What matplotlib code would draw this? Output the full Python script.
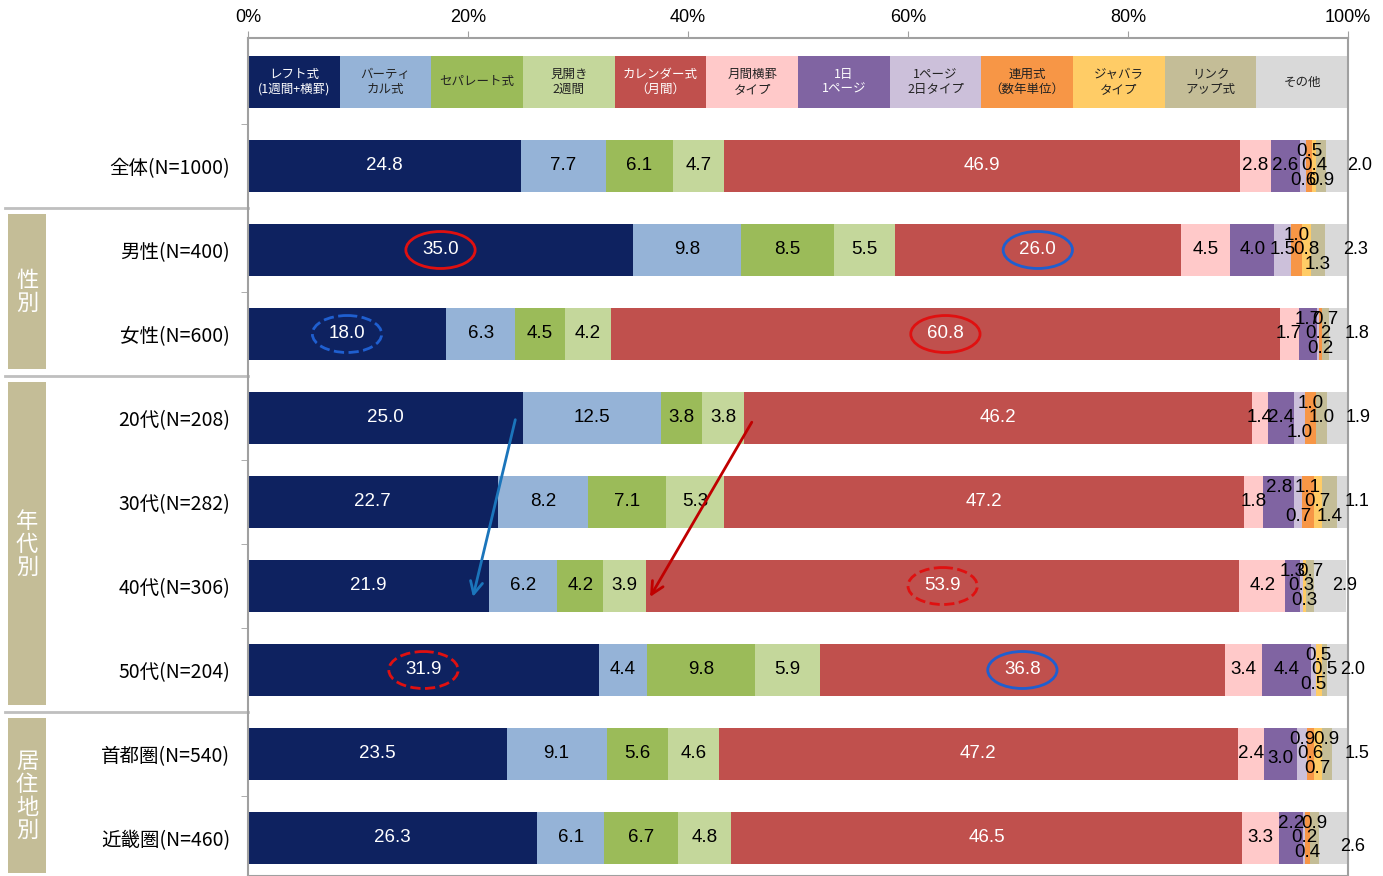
import numpy as np
import matplotlib
matplotlib.use('Agg')
import matplotlib.pyplot as plt
from matplotlib.patches import Ellipse, Rectangle
import matplotlib.transforms as mtransforms
from matplotlib import font_manager

plt.rcParams['font.family'] = ['Noto Sans CJK JP', 'DejaVu Sans']
names = {f.name for f in font_manager.fontManager.ttflist}
NUM_FONT = 'Liberation Sans Narrow' if 'Liberation Sans Narrow' in names else 'Liberation Sans'

# ---------------- data ----------------
categories = ['レフト式\n(1週間+横罫)', 'バーティ\nカル式', 'セパレート式', '見開き\n2週間',
              'カレンダー式\n（月間）', '月間横罫\nタイプ', '1日\n1ページ', '1ページ\n2日タイプ',
              '連用式\n（数年単位）', 'ジャバラ\nタイプ', 'リンク\nアップ式', 'その他']
row_labels = ['全体(N=1000)', '男性(N=400)', '女性(N=600)', '20代(N=208)', '30代(N=282)',
              '40代(N=306)', '50代(N=204)', '首都圏(N=540)', '近畿圏(N=460)']
vals_total = [24.8, 7.7, 6.1, 4.7, 46.9, 2.8, 2.6, 0.6, 0.5, 0.4, 0.9, 2.0]
vals_male = [35.0, 9.8, 8.5, 5.5, 26.0, 4.5, 4.0, 1.5, 1.0, 0.8, 1.3, 2.3]
vals_female = [18.0, 6.3, 4.5, 4.2, 60.8, 1.7, 1.7, 0.2, 0.2, 0.0, 0.7, 1.8]
vals_20s = [25.0, 12.5, 3.8, 3.8, 46.2, 1.4, 2.4, 1.0, 1.0, 0.0, 1.0, 1.9]
vals_30s = [22.7, 8.2, 7.1, 5.3, 47.2, 1.8, 2.8, 0.7, 1.1, 0.7, 1.4, 1.1]
vals_40s = [21.9, 6.2, 4.2, 3.9, 53.9, 4.2, 1.3, 0.3, 0.0, 0.3, 0.7, 2.9]
vals_50s = [31.9, 4.4, 9.8, 5.9, 36.8, 3.4, 4.4, 0.5, 0.0, 0.5, 0.5, 2.0]
vals_tokyo = [23.5, 9.1, 5.6, 4.6, 47.2, 2.4, 3.0, 0.9, 0.6, 0.7, 0.9, 1.5]
vals_kinki = [26.3, 6.1, 6.7, 4.8, 46.5, 3.3, 2.2, 0.2, 0.4, 0.0, 0.9, 2.6]
groups = [('性\n別', 1, 2), ('年\n代\n別', 3, 6), ('居\n住\n地\n別', 7, 8)]
x_ticks = [0, 20, 40, 60, 80, 100]

# ---------------- styles ----------------
colors = ['#0E2260', '#95B3D7', '#9BBB59', '#C4D79B', '#C0504D', '#FFC9C9',
          '#8064A2', '#CCC0DA', '#F79646', '#FFCC66', '#C4BD97', '#D9D9D9']
header_white = {0, 4, 6}
label_white = {0, 4}
# vertical offsets of small labels (row index -> {category: offset})
T, M, B = -0.17, 0.0, 0.17
small_off = {
    0: {7: B, 8: T, 9: M, 10: B},
    1: {7: M, 8: T, 9: M, 10: B},
    2: {6: T, 7: M, 8: B, 10: T},
    3: {7: B, 8: T, 10: M},
    4: {6: T, 7: B, 8: T, 9: M, 10: B},
    5: {6: T, 7: M, 9: B, 10: T},
    6: {7: B, 9: T, 10: M},
    7: {6: 0.05, 7: T, 8: M, 9: B, 10: T},
    8: {6: T, 7: M, 8: B, 10: T},
}
other_x = [101.1, 100.7, 100.8, 100.9, 100.8, 99.7, 100.4, 100.8, 100.4]
other_dy = [0, 0, 0, 0, 0, 0, 0, 0, 0.1]
ellipses = [(1, 0, '#E01010', '-'), (1, 4, '#1F5FD0', '-'), (2, 0, '#1F5FD0', '--'),
            (2, 4, '#E01010', '-'), (5, 4, '#E01010', '--'), (6, 0, '#E01010', '--'),
            (6, 4, '#1F5FD0', '-')]

data = np.array([vals_total, vals_male, vals_female, vals_20s, vals_30s,
                 vals_40s, vals_50s, vals_tokyo, vals_kinki])
nrow, ncat = data.shape
ypos = np.arange(1, nrow + 1)
lefts = np.hstack([np.zeros((nrow, 1)), np.cumsum(data, axis=1)[:, :-1]])

W, H = 1383, 876
fig = plt.figure(figsize=(W / 100, H / 100), dpi=100)
ax = fig.add_axes([248 / W, 0, 1100 / W, 1 - 38 / H])
BH = 0.62

# header legend band
hw = 100 / ncat
for j in range(ncat):
    ax.barh(0, hw, left=j * hw, height=BH, color=colors[j], linewidth=0)
    ax.text(j * hw + hw / 2, 0, categories[j], ha='center', va='center', fontsize=9,
            linespacing=1.15, color='white' if j in header_white else '#222222')

# bars
for j in range(ncat):
    ax.barh(ypos, data[:, j], left=lefts[:, j], height=BH, color=colors[j], linewidth=0)

# labels
for i in range(nrow):
    for j in range(ncat):
        v = data[i, j]
        if v <= 0:
            continue
        if j == ncat - 1:
            ax.text(other_x[i], ypos[i] + other_dy[i], f'{v:.1f}', ha='center', va='center',
                    fontsize=13, family=NUM_FONT, color='black')
            continue
        dy = small_off.get(i, {}).get(j, 0.0)
        ax.text(lefts[i, j] + v / 2, ypos[i] + dy, f'{v:.1f}', ha='center', va='center',
                fontsize=13.5, family=NUM_FONT,
                color='white' if j in label_white else 'black')

# ellipses
for (i, j, c, ls) in ellipses:
    xc = lefts[i, j] + data[i, j] / 2
    ax.add_patch(Ellipse((xc, ypos[i]), width=6.3, height=0.44, fill=False,
                         edgecolor=c, lw=2, linestyle=ls, zorder=5))

# arrows (20s -> 40s)
ax.annotate('', xy=(lefts[5, 1] - 1.45, ypos[5] + 0.13), xytext=(lefts[3, 1] - 0.7, ypos[3] + 0.02),
            arrowprops=dict(arrowstyle='->', color='#1B75BB', lw=2, mutation_scale=22,
                            shrinkA=0, shrinkB=0), zorder=6)
ax.annotate('', xy=(lefts[5, 4] + 0.35, ypos[5] + 0.13), xytext=(lefts[3, 4] + 0.7, ypos[3] + 0.05),
            arrowprops=dict(arrowstyle='->', color='#C00000', lw=2, mutation_scale=22,
                            shrinkA=0, shrinkB=0), zorder=6)

# axes formatting
ax.set_xlim(0, 100)
ax.set_ylim((876 - 82) / 84, (38 - 82) / 84)
ax.xaxis.tick_top()
ax.set_xticks(x_ticks)
ax.set_xticklabels([f'{t}%' for t in x_ticks], family=NUM_FONT, fontsize=13)
ax.tick_params(axis='x', length=5, color='#A0A0A0', pad=4)
ax.set_yticks(ypos)
ax.set_yticklabels(row_labels, fontsize=14)
ax.tick_params(axis='y', which='major', length=0, pad=13)
ax.set_yticks(np.arange(0.5, nrow, 1.0), minor=True)
ax.tick_params(axis='y', which='minor', length=5, color='#A0A0A0')
for s in ax.spines.values():
    s.set_color('#A0A0A0')
    s.set_linewidth(1.5)

# group boxes and separators
tr = mtransforms.blended_transform_factory(fig.transFigure, ax.transData)
for yb in [1.5, 3.5, 7.5]:
    ax.plot([5 / W, 248 / W], [yb, yb], transform=tr, color='#BFBFBF', lw=2, clip_on=False)
ybot = (876 - 82) / 84
for (g, r0, r1) in groups:
    top = r0 + 0.57
    bot = min(r1 + 1 + 0.42, ybot + 0.1)
    ax.add_patch(Rectangle((8 / W, top), 38 / W, bot - top, transform=tr,
                           facecolor='#C4BD97', edgecolor='none', clip_on=False))
    ax.text(27 / W, (r0 + r1) / 2 + 1, g, transform=tr, ha='center', va='center',
            color='white', fontsize=16, linespacing=1.0)

fig.savefig('out.png', dpi=100)
